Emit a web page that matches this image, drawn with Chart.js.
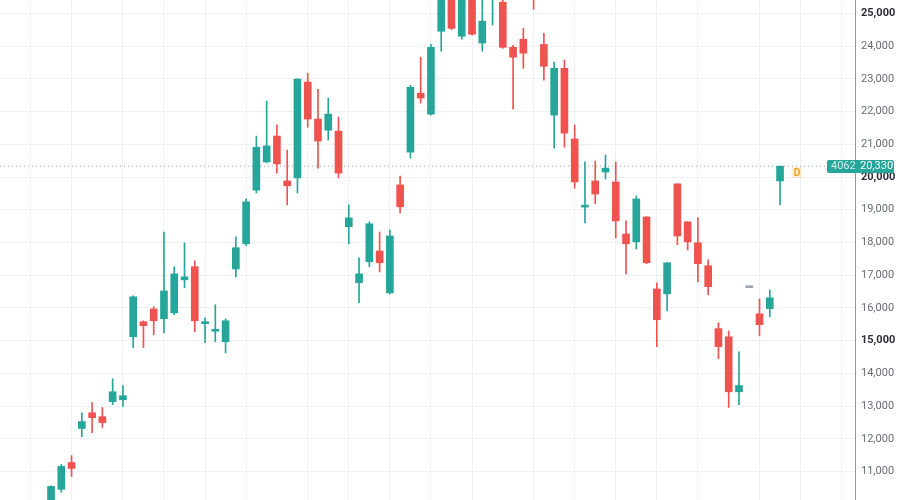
<!DOCTYPE html>
<html lang="en">
<head>
<meta charset="UTF-8">
<title>Daily candles</title>
<script src="https://cdn.jsdelivr.net/npm/chart.js"></script>
<style>
  html, body { margin: 0; padding: 0; background: #fff; }
  #wrap { width: 900px; height: 500px; position: relative; }
</style>
</head>
<body>
<div id="wrap"><canvas id="chart"></canvas></div>
<script>
// OHLC per session, oldest first
const opens  = [10100, 10460, 11280, 12320, 12800, 12680, 13140, 13200, 15120, 15580,
                15970, 15670, 15850, 16860, 17260, 15520, 15290, 14970, 17190, 17960,
                19600, 20460, 21250, 19880, 19970, 22900, 21770, 21430, 21400, 18480,
                16770, 17410, 17740, 16460, 19760, 20760, 22560, 21920, 24450, 25800,
                24300, 25600, 24090, 25600, 25340, 23960, 24210, 25800, 24050, 21890,
                23320, 21160, 19080, 19880, 20150, 19850, 18260, 18020, 18780, 16580,
                16430, 19790, 18630, 17990, 17290, 15370, 15120, 13440, 16620, 15820,
                15980, 19880];
const highs  = [10570, 11220, 11490, 12800, 13110, 12960, 13840, 13630, 16370, 15610,
                16040, 18320, 17260, 17990, 17440, 15700, 16100, 15670, 18170, 19330,
                21250, 22320, 21590, 20820, 23000, 23170, 22680, 22410, 21830, 19150,
                17530, 18630, 18320, 18380, 20030, 22800, 23660, 24050, 25900, 26000,
                25800, 25800, 25600, 26000, 25450, 24020, 24540, 26000, 24390, 23510,
                23570, 21590, 20460, 20490, 20670, 20460, 18660, 19420, 18790, 16770,
                17390, 19800, 18640, 18750, 17470, 15550, 15300, 14660, 16620, 16280,
                16550, 20330];
const lows   = [9900, 10370, 10850, 12070, 12190, 12350, 13050, 12990, 14790, 14790,
                15180, 15240, 15790, 16620, 15270, 14940, 14970, 14630, 16950, 17900,
                19510, 20430, 20120, 19150, 19510, 21520, 20270, 21130, 19970, 17960,
                16160, 17260, 17100, 16430, 18900, 20580, 22260, 21890, 23840, 24500,
                24210, 24330, 23840, 24640, 23930, 22070, 23320, 25120, 22960, 20880,
                20910, 19660, 18600, 19180, 19940, 18140, 17040, 17800, 17350, 14820,
                15910, 17930, 17770, 16800, 16400, 14450, 12960, 13050, 16620, 15150,
                15730, 19150];
const closes = [10550, 11160, 11100, 12530, 12650, 12500, 13440, 13320, 16340, 15460,
                15610, 16520, 17040, 16950, 15610, 15580, 15300, 15610, 17840, 19240,
                20910, 20950, 20400, 19730, 22990, 21770, 21100, 21920, 20120, 18750,
                17040, 18570, 17380, 18200, 19090, 22740, 22410, 23960, 25700, 24540,
                25600, 24360, 24760, 25900, 23960, 23660, 23780, 25500, 23380, 23320,
                21340, 19850, 19100, 19480, 20270, 18660, 17960, 19330, 17380, 15640,
                17380, 18200, 18020, 17350, 16650, 14820, 13440, 13630, 16620, 15490,
                16310, 20330];

const yTicks = [11000, 12000, 13000, 14000, 15000, 16000, 17000, 18000,
                19000, 20000, 21000, 22000, 23000, 24000, 25000];
// vertical grid lines sit on these sessions
const xGridIdx = [-2, 2, 7, 11, 15, 19, 25, 29, 33, 37, 41, 47, 51, 55, 59, 63, 69, 73, 77];

const lastPrice = 20330;
const lastVolume = '4062';

const UP = '#26a69a', DOWN = '#ef5350', FLAT = '#a3a6af';
const colors = opens.map((o, i) => closes[i] > o ? UP : (closes[i] < o ? DOWN : FLAT));

const wicks  = lows.map((l, i) => ({ x: i, y: [l, highs[i]] }));
const bodies = opens.map((o, i) => ({ x: i, y: [o, closes[i]] }));

const X_MIN = -4.97, X_MAX = 78.3;

// no label padding: plot fills the canvas up to the price axis
function noPad(s) {
  s.paddingTop = 0; s.paddingBottom = 0; s.paddingLeft = 0; s.paddingRight = 0;
}

// price tag on the axis + the little "D" marker
const tagPlugin = {
  id: 'tags',
  afterDraw(chart) {
    const { ctx, scales: { x, y } } = chart;
    const py = Math.round(y.getPixelForValue(lastPrice));
    ctx.save();
    // D marker
    const dx = x.getPixelForValue(closes.length - 1) + 17;
    ctx.fillStyle = 'rgba(255,152,0,0.15)';
    ctx.fillRect(dx - 5, py + 1, 10, 11);
    ctx.fillStyle = '#f39c12';
    ctx.font = 'bold 10px Roboto';
    ctx.textAlign = 'center';
    ctx.textBaseline = 'middle';
    ctx.fillText('D', dx, py + 7);
    // price tag
    ctx.fillStyle = UP;
    ctx.beginPath();
    ctx.roundRect(827, py - 6, 67, 13, 2);
    ctx.fill();
    ctx.font = '11px Roboto';
    ctx.textAlign = 'left';
    ctx.fillStyle = 'rgba(255,255,255,0.8)';
    ctx.fillText(lastVolume, 831, py + 0.5);
    ctx.fillStyle = '#fff';
    ctx.fillText(lastPrice.toLocaleString('en-US'), 860, py + 0.5);
    ctx.restore();
  }
};

new Chart(document.getElementById('chart'), {
  type: 'bar',
  data: {
    datasets: [
      {
        data: wicks,
        backgroundColor: colors,
        barThickness: 1,
        grouped: false,
        order: 2
      },
      {
        data: bodies,
        backgroundColor: colors,
        barThickness: 7,
        minBarLength: 2,
        grouped: false,
        order: 1
      },
      {
        type: 'line',
        data: [{ x: X_MIN, y: lastPrice }, { x: X_MAX, y: lastPrice }],
        borderColor: '#8fa9a6',
        borderWidth: 1,
        borderDash: [1, 3],
        pointRadius: 0,
        order: 3
      }
    ]
  },
  options: {
    responsive: true,
    maintainAspectRatio: false,
    animation: false,
    layout: { padding: 0 },
    plugins: { legend: { display: false }, tooltip: { enabled: false } },
    scales: {
      x: {
        type: 'linear',
        min: X_MIN,
        max: X_MAX,
        offset: false,
        afterBuildTicks: s => { s.ticks = xGridIdx.map(v => ({ value: v })); },
        afterFit: s => { s.height = 0; noPad(s); },
        ticks: { display: false },
        grid: { color: '#f0f1f4', drawTicks: false, offset: false },
        border: { display: false }
      },
      y: {
        position: 'right',
        min: 10135,
        max: 25406,
        afterBuildTicks: s => { s.ticks = yTicks.map(v => ({ value: v })); },
        afterFit: s => { s.width = 45; noPad(s); },
        ticks: {
          padding: 6,
          callback: v => v.toLocaleString('en-US'),
          color: c => (c.tick && c.tick.value % 5000 === 0) ? '#2a2e39' : '#6a6d78',
          font: c => ({ family: 'Roboto', size: 11, weight: (c.tick && c.tick.value % 5000 === 0) ? 'bold' : 'normal' })
        },
        grid: { color: '#f0f1f4', drawTicks: false },
        border: { display: true, color: '#9598a1' }
      }
    }
  },
  plugins: [tagPlugin]
});
</script>
</body>
</html>
